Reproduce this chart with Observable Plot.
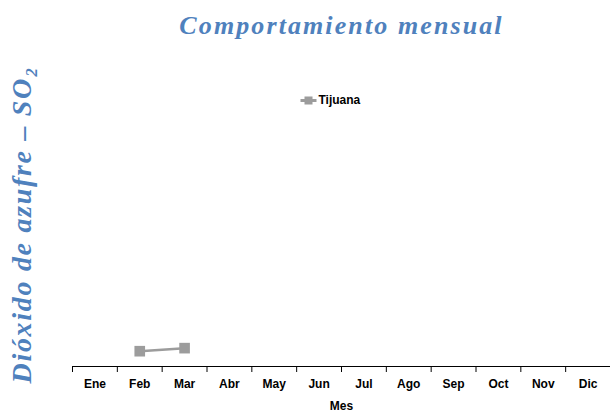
<!DOCTYPE html>
<html><head><meta charset="utf-8">
<script src="https://cdn.jsdelivr.net/npm/d3@7"></script>
<script src="https://cdn.jsdelivr.net/npm/@observablehq/plot@0.6"></script>
<style>body{margin:0;background:#fff}</style>
</head><body><div id="chart"></div>
<script>
const months = ["Ene","Feb","Mar","Abr","May","Jun","Jul","Ago","Sep","Oct","Nov","Dic"];
const seriesName = "Tijuana";
const tijuanaMonths = ["Feb","Mar"];
const tijuanaValues = [1.0, 1.2];
const yDomain = [0, 20];
const title = "Comportamiento mensual";
const yLabel = "Dióxido de azufre – SO₂";
const xLabel = "Mes";

const data = tijuanaMonths.map((m,i)=>({mes:m, valor:tijuanaValues[i]}));
const W = 610, H = 415, mL = 72, mR = 0, mT = 60, mB = 49;
const step = (W - mL - mR) / months.length;
const gray = "#9c9c9c";
const blue = "#4F81BD";

const legendSymbol = {
  draw(ctx, size) {
    ctx.moveTo(-8, -1.5); ctx.lineTo(8, -1.5); ctx.lineTo(8, 1.5); ctx.lineTo(-8, 1.5); ctx.closePath();
    ctx.moveTo(-4, -4); ctx.lineTo(4, -4); ctx.lineTo(4, 4); ctx.lineTo(-4, 4); ctx.closePath();
  }
};

const chart = Plot.plot({
  width: W, height: H,
  marginLeft: mL, marginRight: mR, marginTop: mT, marginBottom: mB,
  style: {fontFamily: "Liberation Sans, Arial, sans-serif", background: "#fff"},
  x: {type: "band", domain: months, paddingInner: 0, paddingOuter: 0, round: false},
  y: {domain: yDomain, axis: null},
  marks: [
    Plot.axisX({tickSize: 6, tickFormat: () => "", dx: -step/2, stroke: "#000", strokeWidth: 1, label: null}),
    Plot.axisX({tickSize: 0, tickPadding: 13, fontSize: 12, fontWeight: "bold", fill: "#000", label: null}),
    Plot.ruleY([0], {stroke: "#000", strokeWidth: 1.2}),
    Plot.line(data, {x: "mes", y: "valor", stroke: gray, strokeWidth: 2.5}),
    Plot.dot(data, {x: "mes", y: "valor", symbol: "square", r: 6, fill: gray, stroke: "none"}),
    Plot.text([xLabel], {frameAnchor: "bottom", dy: 40, lineAnchor: "middle", text: d => d, fontSize: 12, fontWeight: "bold", fill: "#000"}),
    Plot.text([title], {frameAnchor: "top", dy: -35, dx: 0, lineAnchor: "middle", text: d => d, fontSize: 26, fontWeight: "bold", fontStyle: "italic", fontFamily: "Liberation Serif, Times New Roman, serif", fill: blue}),
    Plot.text([yLabel], {frameAnchor: "left", textAnchor: "middle", lineAnchor: "middle", dx: -50, dy: 11, rotate: -90, text: d => d, fontSize: 28, fontWeight: "bold", fontStyle: "italic", fontFamily: "Liberation Serif, Times New Roman, serif", fill: blue}),
    Plot.dot([seriesName], {frameAnchor: "top-left", dx: 236, dy: 40, symbol: legendSymbol, fill: gray, stroke: "none"}),
    Plot.text([seriesName], {frameAnchor: "top-left", dx: 246, dy: 40, lineAnchor: "middle", text: d => d, textAnchor: "start", fontSize: 12, fontWeight: "bold", fill: "#000"})
  ]
});
d3.select(chart).selectAll("text").each(function() {
  const t = this.textContent;
  if (t === title) this.setAttribute("letter-spacing", "2.1");
  if (t === yLabel) this.setAttribute("letter-spacing", "1.7");
});
document.getElementById("chart").appendChild(chart);
</script></body></html>
